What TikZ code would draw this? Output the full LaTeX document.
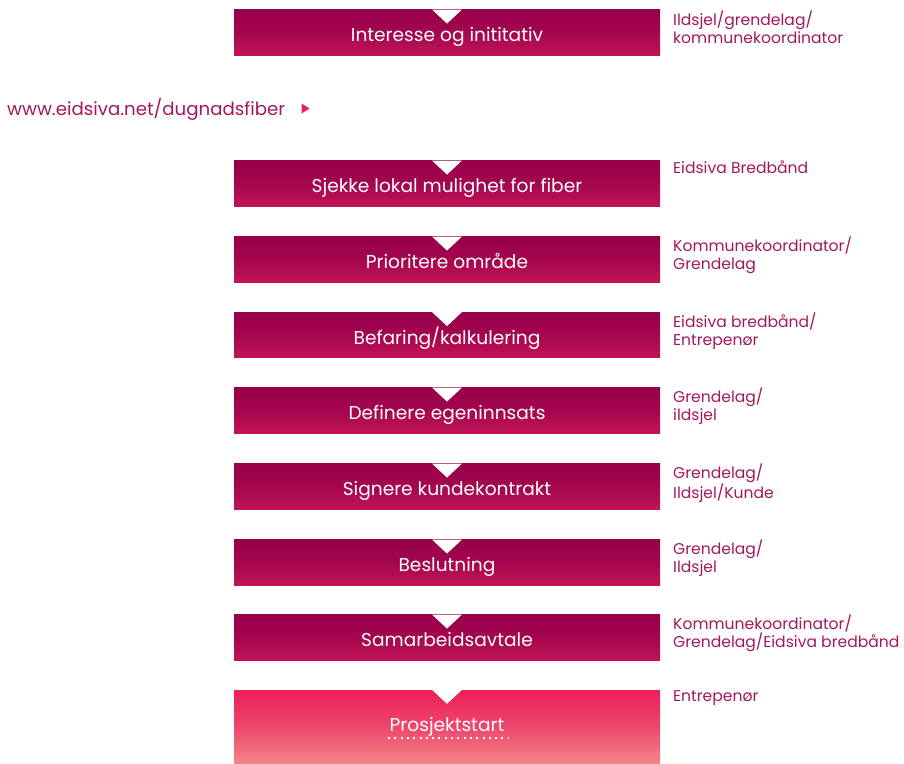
\documentclass[tikz,border=0pt]{standalone}
\usepackage{fontspec}
\setmainfont{Poppins}
\usetikzlibrary{positioning}

\definecolor{plumtop}{HTML}{97004A}
\definecolor{plumbot}{HTML}{C21457}
\definecolor{rosetop}{HTML}{EC1E5A}
\definecolor{rosebot}{HTML}{F28489}
\definecolor{sidetext}{HTML}{A2195B}
\definecolor{arrowpink}{HTML}{EE1D55}

\tikzset{
  stepbox/.style={minimum width=426pt, minimum height=45.5pt, inner sep=0pt,
    top color=plumtop, bottom color=plumbot, middle color=plumtop!70!plumbot,
    text=white, font=\fontsize{18.6}{20}\selectfont, text height=18.4pt, text depth=0pt},
  laststep/.style={stepbox, minimum height=73pt,
    top color=rosetop, bottom color=rosebot, middle color=rosetop!60!rosebot},
  who/.style={anchor=north west, align=left, text=sidetext, inner sep=0pt,
    font=\fontsize{15.6}{17.7}\selectfont},
}

\newcommand{\notch}[1]{\fill[white] ([xshift=-15pt]#1.north) -- ([xshift=15pt]#1.north) -- ([yshift=-14pt]#1.north) -- cycle;}

\begin{document}
\begin{tikzpicture}[x=1pt,y=-1pt]
    \useasboundingbox (0,0) rectangle (904,763);

    \node[stepbox] (interesse) at (447, 32.5) {Interesse og inititativ};
    \node[stepbox] (sjekke) at (447, 183.5) {Sjekke lokal mulighet for fiber};
    \node[stepbox] (prioritere) at (447, 259.5) {Prioritere område};
    \node[stepbox] (befaring) at (447, 335) {Befaring/kalkulering};
    \node[stepbox] (definere) at (447, 410.5) {Definere egeninnsats};
    \node[stepbox] (signere) at (447, 486.5) {Signere kundekontrakt};
    \node[stepbox] (beslutning) at (447, 562.5) {Beslutning};
    \node[stepbox] (samarbeid) at (447, 637.5) {Samarbeidsavtale};
    \node[laststep, text height=10.4pt] (prosjekt) at (447, 726.5) {Prosjektstart};

    \notch{interesse}
    \notch{sjekke}
    \notch{prioritere}
    \notch{befaring}
    \notch{definere}
    \notch{signere}
    \notch{beslutning}
    \notch{samarbeid}
    \notch{prosjekt}

    % dotted line under the last step
    \draw[white, line width=2pt, dash pattern=on 2pt off 4.3pt] (388, 737.5) -- (509, 737.5);

    \node[who] (w1) at (673, 10.5) {Ildsjel/grendelag/\\kommunekoordinator};
    \node[who] (w2) at (673, 161) {Eidsiva Bredbånd};
    \node[who] (w3) at (673, 236.5) {Kommunekoordinator/\\Grendelag};
    \node[who] (w4) at (673, 312.5) {Eidsiva bredbånd/\\Entrepenør};
    \node[who] (w5) at (673, 388) {Grendelag/\\ildsjel};
    \node[who] (w6) at (673, 464) {Grendelag/\\Ildsjel/Kunde};
    \node[who] (w7) at (673, 539.5) {Grendelag/\\Ildsjel};
    \node[who] (w8) at (673, 615) {Kommunekoordinator/\\Grendelag/Eidsiva bredbånd};
    \node[who] (w9) at (673, 690.5) {Entrepenør};

    \node[anchor=base west, inner sep=0pt, text=sidetext,
      font=\fontsize{18.2}{20}\selectfont] (url) at (7, 115) {www.eidsiva.net/dugnadsfiber};
    \fill[arrowpink] (301.5, 103.5) -- (309.5, 108.5) -- (301.5, 113.5) -- cycle;
\end{tikzpicture}
\end{document}
